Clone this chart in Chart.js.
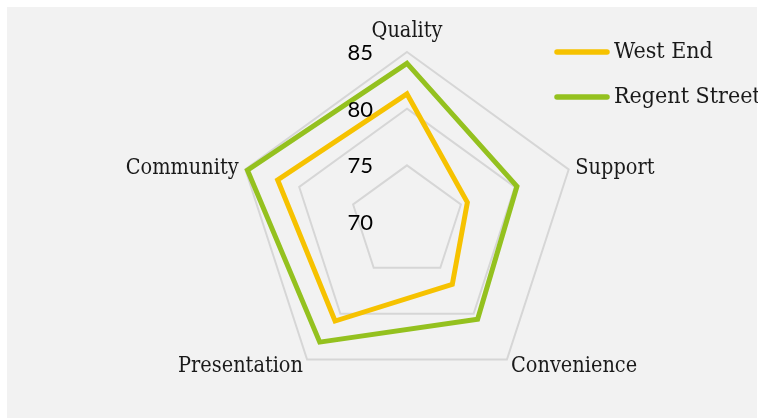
<!DOCTYPE html>
<html>
<head>
<meta charset="utf-8">
<script src="https://cdn.jsdelivr.net/npm/chart.js@4.4.1/dist/chart.umd.min.js"></script>
<style>
  html, body { margin: 0; padding: 0; background: #fff; }
  #fundo { position: absolute; left: 7px; top: 7px; width: 750px; height: 411px; background: #f2f2f2; }
  #quadro { position: absolute; left: 0; top: 0; width: 758px; height: 418px; }
</style>
</head>
<body>
<div id="fundo"></div>
<div id="quadro"><canvas id="grafico-radar" width="758" height="418"></canvas></div>
<script>
const eixos = ["Quality", "Support", "Convenience", "Presentation", "Community"];
const westEnd = [81.3, 75.6, 76.8, 80.8, 82.0];
const regentStreet = [84.0, 80.2, 80.6, 83.1, 84.8];
const marcasEscala = [70, 75, 80, 85];

const corWestEnd = "#f6c200";
const corRegent = "#94c11f";

const fonteSerif = "'DejaVu Serif Condensed', 'DejaVu Serif', serif";

// rótulos dos eixos, números da escala e legenda desenhados à mão
const decoracoes = {
  id: "decoracoes",
  afterDraw(chart) {
    const ctx = chart.ctx;
    const r = chart.scales.r;
    ctx.save();

    // nomes dos eixos
    ctx.fillStyle = "#1a1a1a";
    ctx.font = "21.5px " + fonteSerif;
    eixos.forEach((nome, i) => {
      const topo = i === 0;
      const p = r.getPointPosition(i, r.drawingArea + (topo ? 10 : 7));
      const dx = p.x - r.xCenter;
      ctx.textAlign = Math.abs(dx) < 1 ? "center" : (dx > 0 ? "left" : "right");
      ctx.textBaseline = topo ? "bottom" : "middle";
      ctx.fillText(nome, p.x, p.y + (topo ? 0 : 1));
    });

    // números da escala, à esquerda do eixo vertical
    ctx.fillStyle = "#000";
    ctx.font = "22px Lato, sans-serif";
    ctx.textAlign = "right";
    ctx.textBaseline = "middle";
    marcasEscala.forEach(v => {
      const y = r.yCenter - r.getDistanceFromCenterForValue(v);
      ctx.fillText(String(v), r.xCenter - 34, y + 1);
    });

    // legenda
    const xLinha = 557, largura = 50, xTexto = 614;
    chart.data.datasets.forEach((ds, i) => {
      const y = 52 + i * 45;
      ctx.strokeStyle = ds.borderColor;
      ctx.lineWidth = 5.5;
      ctx.lineCap = "round";
      ctx.beginPath();
      ctx.moveTo(xLinha, y);
      ctx.lineTo(xLinha + largura, y);
      ctx.stroke();
      ctx.fillStyle = "#1a1a1a";
      ctx.font = "23px " + fonteSerif;
      ctx.textAlign = "left";
      ctx.textBaseline = "middle";
      ctx.fillText(ds.label, xTexto, y);
    });

    ctx.restore();
  }
};

new Chart(document.getElementById("grafico-radar"), {
  type: "radar",
  data: {
    labels: eixos,
    datasets: [
      {
        label: "West End",
        data: westEnd,
        borderColor: corWestEnd,
        borderWidth: 5,
        pointRadius: 0,
        fill: false,
      },
      {
        label: "Regent Street",
        data: regentStreet,
        borderColor: corRegent,
        borderWidth: 5,
        pointRadius: 0,
        fill: false,
      },
    ],
  },
  options: {
    responsive: false,
    animation: false,
    layout: { padding: { left: 237, right: 181, top: 52, bottom: 26 } },
    plugins: {
      legend: { display: false },
      tooltip: { enabled: false },
    },
    scales: {
      r: {
        min: 70,
        max: 85,
        ticks: { stepSize: 5, display: false },
        pointLabels: { display: false },
        angleLines: { display: false },
        grid: { color: "#d6d6d6", lineWidth: 2 },
      },
    },
  },
  plugins: [decoracoes],
});
</script>
</body>
</html>
